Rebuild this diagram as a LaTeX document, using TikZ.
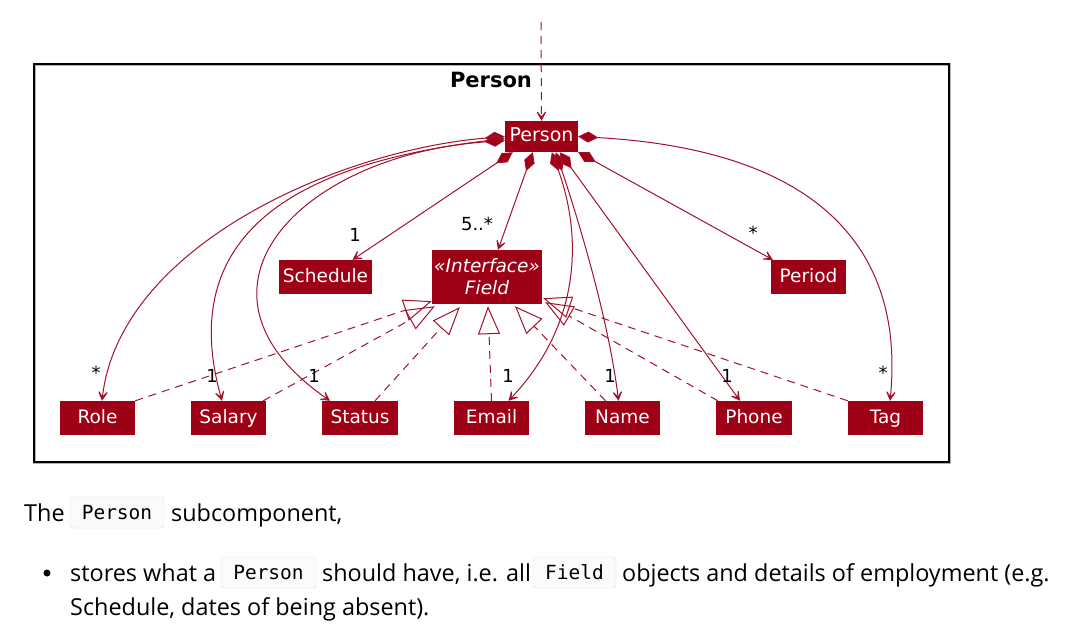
\documentclass[tikz,border=0pt]{standalone}
\usepackage{fontspec}
\setmainfont{DejaVu Sans}
\newfontfamily\bodyfont{Open Sans}
\newfontfamily\codefont{DejaVu Sans Mono}
\usetikzlibrary{arrows.meta}
\definecolor{umlred}{HTML}{9E0016}
\definecolor{umlline}{HTML}{A3102C}
\definecolor{codeborder}{HTML}{DDDDDD}
\definecolor{codebg}{HTML}{FBFBFB}
\begin{document}
\begin{tikzpicture}[x=1pt,y=-1pt,
  cls/.style={fill=umlred, text=white, inner sep=0pt, minimum width=#1, minimum height=34pt,
    font=\fontsize{18.5}{22}\selectfont},
  one/.style={text height=13.5pt, text depth=3.5pt},
  mult/.style={text=black, inner sep=0pt, font=\fontsize{18}{20}\selectfont},
  comp/.style={draw=umlline, line width=1pt,
    {Diamond[length=20pt,width=11pt,fill=umlred]}-{Stealth[length=13pt,width=14pt,inset=8.5pt]}},
  real/.style={draw=umlline, line width=1pt, dash pattern=on 8pt off 6pt,
    -{Triangle[open,length=28pt,width=22pt]}},
  body/.style={inner sep=0pt, text=black, font=\bodyfont\fontsize{23.4}{27}\selectfont},
  code/.style={draw=codeborder, fill=codebg, rounded corners=3pt, inner sep=0pt,
    minimum height=31pt, minimum width=#1, font=\codefont\fontsize{19.5}{22}\selectfont},
]
\useasboundingbox (0,0) rectangle (1074,625);
\fill[white] (0,0) rectangle (1074,625);

% package frame
\draw[black!30, line width=3pt] (34,64) rectangle (949,462);
\draw[black, line width=1.5pt] (34,64) rectangle (949,462);
\node[font=\bfseries\fontsize{21}{24}\selectfont, inner sep=0pt] (ptitle) at (491,80) {Person};

% classes
\node[cls=73, one, minimum height=31pt, font=\fontsize{19}{22}\selectfont] (P) at (541.5,136.5) {Person};
\node[cls=93, one] (Sch) at (325.5,277) {Schedule};
\node[cls=110, minimum height=54pt, align=center, font=\itshape\fontsize{18.5}{22}\selectfont] (F) at (487,277) {«Interface»\\Field};
\node[cls=75, one] (Per) at (808.5,277) {Period};

\node[cls=75, one] (Role) at (97.5,418) {Role};
\node[cls=75, one] (Salary) at (228.5,418) {Salary};
\node[cls=76, one] (Status) at (360,418) {Status};
\node[cls=75, one] (Email) at (491.5,418) {Email};
\node[cls=75, one] (Name) at (622.5,418) {Name};
\node[cls=76, one] (Phone) at (754,418) {Phone};
\node[cls=75, one] (Tag) at (885.5,418) {Tag};

% incoming dashed arrow
\coordinate (top) at (541,22);
\draw[draw=umlline, line width=1pt, dash pattern=on 8pt off 6pt,
  -{Stealth[length=13pt,width=14pt,inset=8.5pt]}] (top) -- (P.north);

% realizations
\draw[real] (Role.north east) -- ([yshift=3pt]F.south west);
\draw[real] ([xshift=-3pt]Salary.north east) -- ([xshift=3pt,yshift=-2pt]F.south west);
\draw[real] ([xshift=15pt]Status.north) -- ([xshift=28pt,yshift=-3pt]F.south west);
\draw[real] (Email.north) -- ([xshift=1pt,yshift=-2pt]F.south);
\draw[real] ([xshift=-17pt]Name.north) -- ([xshift=28pt,yshift=-2pt]F.south);
\draw[real] ([xshift=2pt]Phone.north west) -- ([xshift=3pt,yshift=2pt]F.south east);
\draw[real] (Tag.north west) -- ([xshift=1pt,yshift=6pt]F.south east);

% compositions
\draw[comp] ([yshift=-0pt]P.west) .. controls (340,150) and (120,245) .. ([xshift=4.5pt]Role.north);
\draw[comp] ([yshift=-2pt]P.west) .. controls (330,160) and (170,215) .. ([xshift=-6.5pt]Salary.north);
\draw[comp] ([yshift=-4pt]P.west) .. controls (300,155) and (170,290) .. ([xshift=-30pt]Status.north);
\draw[comp] ([xshift=8pt]P.south west) -- ([xshift=27pt]Sch.north);
\draw[comp] ([xshift=28pt]P.south west) -- ([xshift=11pt]F.north);
\draw[comp] ([xshift=47pt]P.south west) .. controls (580,230) and (585,320) .. ([xshift=17pt]Email.north);
\draw[comp] ([xshift=51pt]P.south west) .. controls (585,240) and (610,330) .. ([xshift=-4pt]Name.north);
\draw[comp] ([xshift=55pt]P.south west) -- ([xshift=-14pt]Phone.north);
\draw[comp] (P.south east) -- ([xshift=2pt]Per.north west);
\draw[comp] (P.east) .. controls (820,150) and (905,250) .. ([xshift=4.5pt]Tag.north);

% multiplicities
\node[mult] (mRole) at (96,373) {*};
\node[mult] (mSalary) at (212,376) {1};
\node[mult] (mStatus) at (314,376) {1};
\node[mult] (mEmail) at (508,376) {1};
\node[mult] (mName) at (610,376) {1};
\node[mult] (mPhone) at (727,376) {1};
\node[mult] (mTag) at (883,373) {*};
\node[mult] (mPeriod) at (753,233) {*};
\node[mult] (mSch) at (355,235) {1};
\node[mult] (mField) at (477,224) {5..*};

% text below
\node[body, anchor=base west] (t1) at (24,521) {The};
\node[code=94] (c1) at (117,512.5) {Person};
\node[body, anchor=base west] (t2) at (171,521) {subcomponent,};
\node[circle, fill=black, inner sep=0pt, minimum size=7pt] (bul) at (47,573) {};
\node[body, anchor=base west] (t3) at (70,581) {stores what a};
\node[code=95] (c2) at (268.5,572.5) {Person};
\node[body, anchor=base west] (t4) at (322,581) {should have, i.e. all};
\node[code=83] (c3) at (574.5,572.5) {Field};
\node[body, anchor=base west] (t5) at (622,581) {objects and details of employment (e.g.};
\node[body, anchor=base west] (t6) at (70,615) {Schedule, dates of being absent).};
\end{tikzpicture}
\end{document}
